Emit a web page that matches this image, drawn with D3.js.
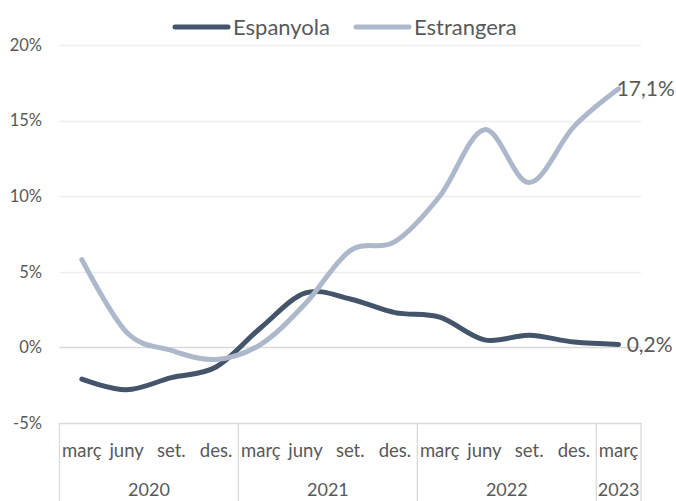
<!DOCTYPE html>
<html>
<head>
<meta charset="utf-8">
<script src="https://cdn.jsdelivr.net/npm/d3@7"></script>
<style>
  html, body { margin: 0; padding: 0; background: #fff; }
  svg { display: block; }
  text { font-family: Lato, "Open Sans", sans-serif; fill: #595959; }
</style>
</head>
<body>
<svg id="chart" width="676" height="501"></svg>
<script>
const quarters = ["març","juny","set.","des.","març","juny","set.","des.","març","juny","set.","des.","març"];
const years = ["2020","2021","2022","2023"];
const yearSpans = [4, 4, 4, 1];
const espanyola = [-2.1, -2.8, -2.0, -1.3, 1.3, 3.6, 3.2, 2.3, 2.0, 0.5, 0.8, 0.35, 0.2];
const estrangera = [5.8, 1.0, -0.2, -0.8, 0.2, 2.9, 6.4, 7.0, 10.0, 14.4, 10.9, 14.6, 17.1];
const yTicks = [-5, 0, 5, 10, 15, 20];
const seriesNames = ["Espanyola", "Estrangera"];
const colors = ["#44546A", "#ADB9CA"];

const svg = d3.select("#chart");
const plotLeft = 59.5, plotRight = 641, plotTop = 45, plotBottom = 423;

const x = d3.scaleBand().domain(d3.range(quarters.length)).range([plotLeft, plotRight]).padding(0);
const y = d3.scaleLinear().domain([-5, 20]).range([plotBottom, plotTop]);
const cx = i => x(i) + x.bandwidth() / 2;

// gridlines
svg.append("g").selectAll("line").data(yTicks).join("line")
  .attr("x1", plotLeft).attr("x2", plotRight)
  .attr("y1", d => Math.round(y(d)) + 0.5).attr("y2", d => Math.round(y(d)) + 0.5)
  .attr("stroke", d => (d === 0 || d === -5) ? "#d9d9d9" : "#eeeeee")
  .attr("stroke-width", 1.3);

// y tick labels
svg.append("g").selectAll("text").data(yTicks).join("text")
  .attr("x", 42).attr("y", d => y(d)).attr("dy", "0.35em")
  .attr("text-anchor", "end").attr("font-size", 16.5)
  .text(d => d + "%");

// category box separators
const bounds = [0];
yearSpans.forEach((s, i) => bounds.push(bounds[i] + s));
svg.append("g").selectAll("line").data(bounds).join("line")
  .attr("x1", d => d < quarters.length ? x(d) : plotRight)
  .attr("x2", d => d < quarters.length ? x(d) : plotRight)
  .attr("y1", plotBottom).attr("y2", 501)
  .attr("stroke", "#d9d9d9").attr("stroke-width", 1.3);

// quarter labels
svg.append("g").selectAll("text").data(quarters).join("text")
  .attr("x", (d, i) => cx(i)).attr("y", 451).attr("dy", "0.35em")
  .attr("text-anchor", "middle").attr("font-size", 18.5)
  .text(d => d);

// year labels
svg.append("g").selectAll("text").data(years).join("text")
  .attr("x", (d, i) => {
    const a = x(bounds[i]);
    const b = bounds[i + 1] < quarters.length ? x(bounds[i + 1]) : plotRight;
    return (a + b) / 2;
  })
  .attr("y", 490).attr("dy", "0.35em")
  .attr("text-anchor", "middle").attr("font-size", 18)
  .text(d => d);

// lines
const line = d3.line().x((d, i) => cx(i)).y(d => y(d)).curve(d3.curveCardinal.tension(0));
[espanyola, estrangera].forEach((s, k) => {
  svg.append("path").datum(s)
    .attr("d", line)
    .attr("fill", "none")
    .attr("stroke", colors[k])
    .attr("stroke-width", 5)
    .attr("stroke-linecap", "round")
    .attr("stroke-linejoin", "round");
});

// data labels
const fmt = v => v.toFixed(1).replace(".", ",") + "%";
const last = quarters.length - 1;
svg.append("text").attr("x", cx(last) - 2).attr("y", y(estrangera[last])).attr("dy", "0.35em")
  .attr("font-size", 21).text(fmt(estrangera[last]));
svg.append("text").attr("x", cx(last) + 8).attr("y", y(espanyola[last])).attr("dy", "0.35em")
  .attr("font-size", 21).text(fmt(espanyola[last]));

// legend
const legendItems = [{x: 175, tx: 233}, {x: 356, tx: 414}];
legendItems.forEach((it, k) => {
  svg.append("line").attr("x1", it.x).attr("x2", it.x + 53).attr("y1", 27).attr("y2", 27)
    .attr("stroke", colors[k]).attr("stroke-width", 5).attr("stroke-linecap", "round");
  svg.append("text").attr("x", it.tx).attr("y", 27).attr("dy", "0.35em")
    .attr("font-size", 22).text(seriesNames[k]);
});
</script>
</body>
</html>
